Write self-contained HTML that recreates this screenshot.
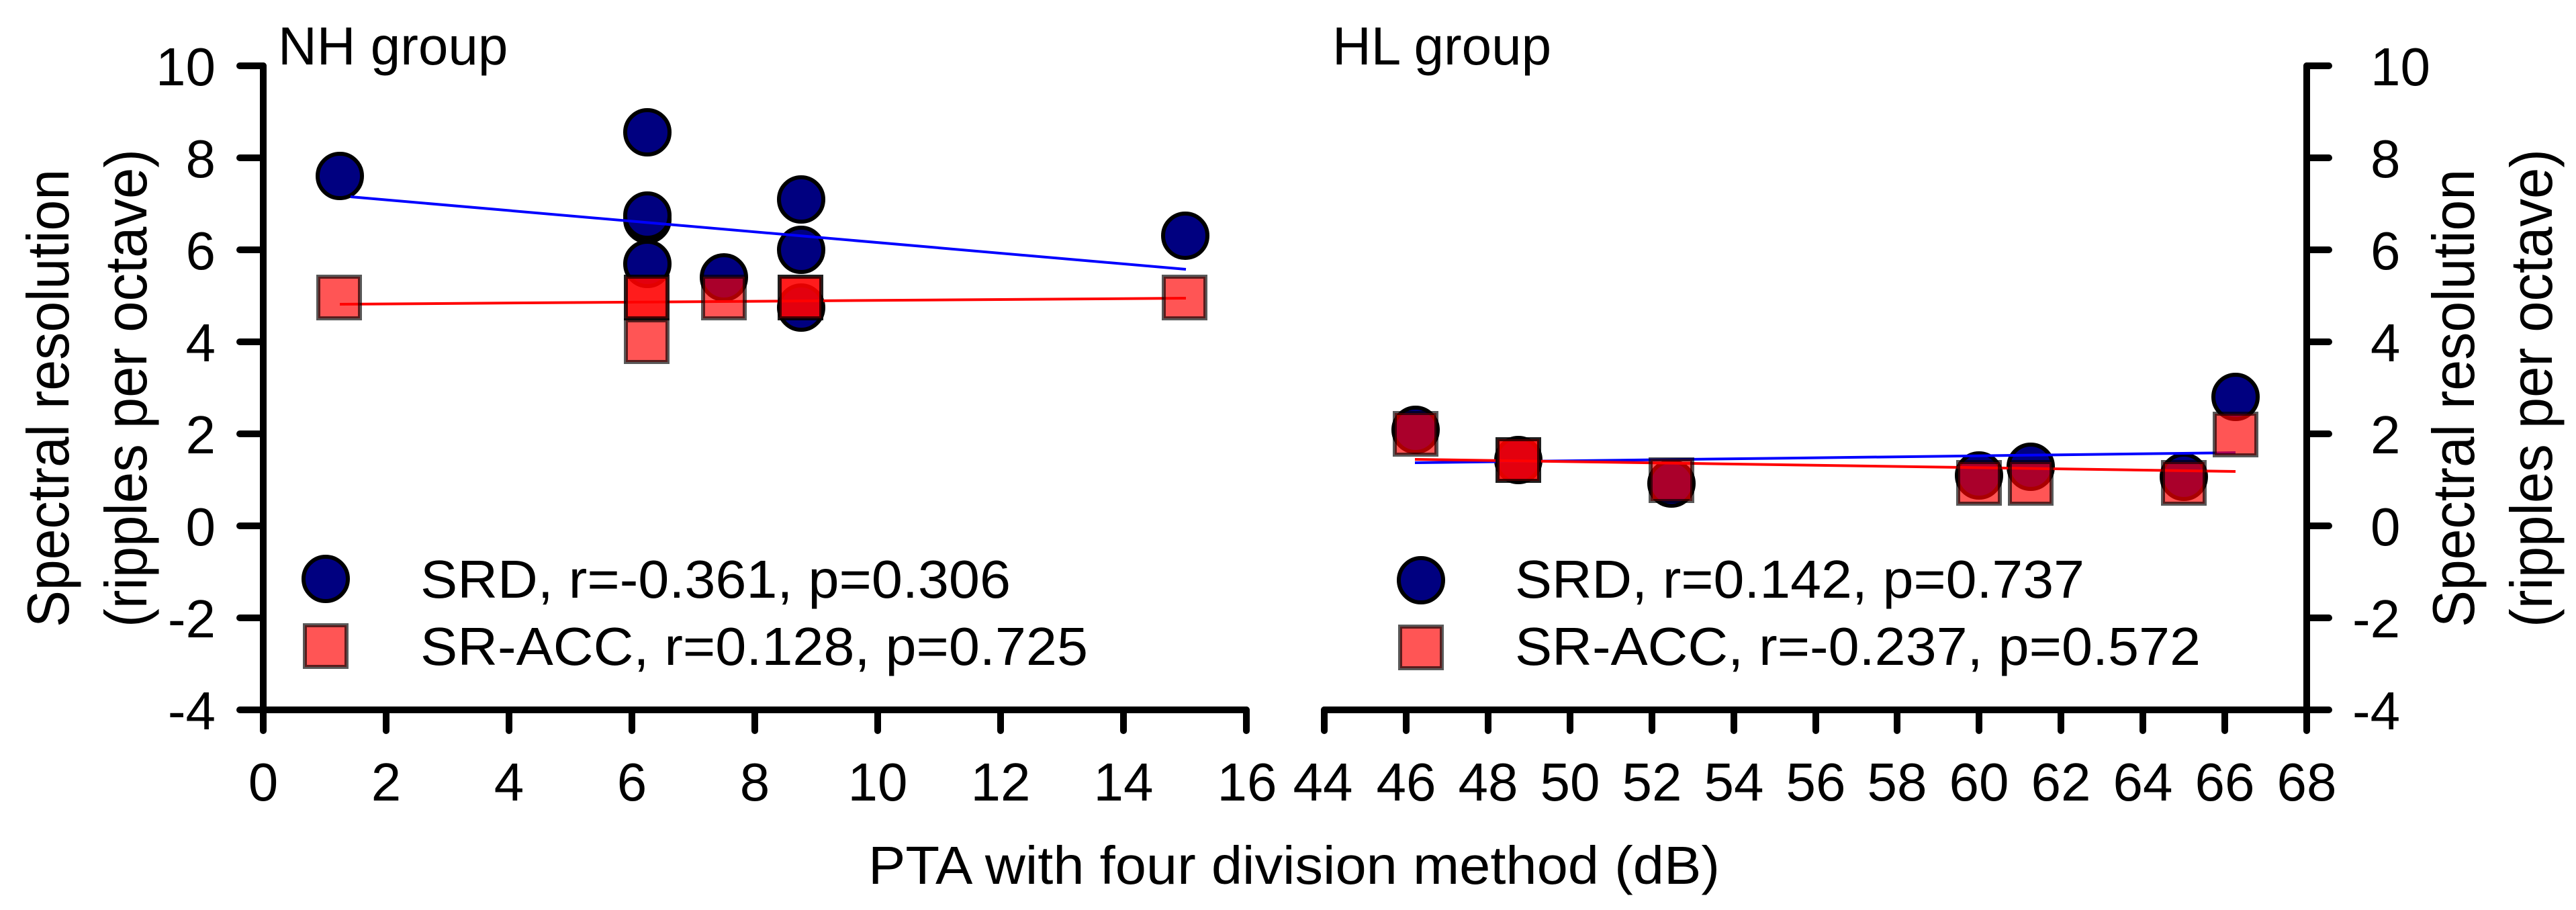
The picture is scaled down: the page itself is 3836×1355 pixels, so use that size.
<!DOCTYPE html>
<html><head><meta charset="utf-8"><style>html,body{margin:0;padding:0;background:#fff}svg{display:block}</style></head>
<body>
<svg width="3836" height="1355" viewBox="0 0 3836 1355" xmlns="http://www.w3.org/2000/svg" font-family="Liberation Sans, Arial, sans-serif">
<rect width="3836" height="1355" fill="#fff"/>
<g stroke="#000" stroke-width="10" stroke-linecap="round" fill="none">
<path d="M392 98 V1057 H1856"/>
<path d="M357 98 H392 M357 235 H392 M357 372 H392 M357 509 H392 M357 646 H392 M357 783 H392 M357 920 H392 M357 1057 H392"/>
<path d="M392 1057 V1088 M575 1057 V1088 M758 1057 V1088 M941 1057 V1088 M1124 1057 V1088 M1307 1057 V1088 M1490 1057 V1088 M1673 1057 V1088 M1856 1057 V1088"/>
<path d="M1972 1057 H3435 V98"/>
<path d="M3435 98 H3468 M3435 235 H3468 M3435 372 H3468 M3435 509 H3468 M3435 646 H3468 M3435 783 H3468 M3435 920 H3468 M3435 1057 H3468"/>
<path d="M1972 1057 V1088 M2094 1057 V1088 M2216 1057 V1088 M2338 1057 V1088 M2460 1057 V1088 M2582 1057 V1088 M2704 1057 V1088 M2825 1057 V1088 M2947 1057 V1088 M3069 1057 V1088 M3191 1057 V1088 M3313 1057 V1088 M3435 1057 V1088"/>
</g>
<g font-size="80" fill="#000">
<g text-anchor="end">
<text x="321" y="127">10</text><text x="321" y="264">8</text><text x="321" y="401">6</text><text x="321" y="538">4</text><text x="321" y="675">2</text><text x="321" y="812">0</text><text x="321" y="949">-2</text><text x="321" y="1086">-4</text>
</g>
<g text-anchor="start">
<text x="3530" y="127">10</text><text x="3530" y="264">8</text><text x="3530" y="401">6</text><text x="3530" y="538">4</text><text x="3530" y="675">2</text><text x="3530" y="812">0</text><text x="3503" y="949">-2</text><text x="3503" y="1086">-4</text>
</g>
<g text-anchor="middle">
<text x="392" y="1192">0</text><text x="575" y="1192">2</text><text x="758" y="1192">4</text><text x="941" y="1192">6</text><text x="1124" y="1192">8</text><text x="1307" y="1192">10</text><text x="1490" y="1192">12</text><text x="1673" y="1192">14</text><text x="1857" y="1192">16</text>
<text x="1970" y="1192">44</text><text x="2094" y="1192">46</text><text x="2216" y="1192">48</text><text x="2338" y="1192">50</text><text x="2460" y="1192">52</text><text x="2582" y="1192">54</text><text x="2704" y="1192">56</text><text x="2825" y="1192">58</text><text x="2947" y="1192">60</text><text x="3069" y="1192">62</text><text x="3191" y="1192">64</text><text x="3313" y="1192">66</text><text x="3435" y="1192">68</text>
</g>
</g>
<g font-size="80" fill="#000">
<text x="414" y="96">NH group</text>
<text x="1984" y="96">HL group</text>
<text x="1927" y="1316" text-anchor="middle" textLength="1268" lengthAdjust="spacingAndGlyphs">PTA with four division method (dB)</text>
</g>
<g font-size="88" fill="#000" text-anchor="middle">
<text transform="translate(102,593) rotate(-90)" textLength="682" lengthAdjust="spacingAndGlyphs">Spectral resolution</text>
<text transform="translate(218,578) rotate(-90)" textLength="712" lengthAdjust="spacingAndGlyphs">(ripples per octave)</text>
<text transform="translate(3684,593) rotate(-90)" textLength="682" lengthAdjust="spacingAndGlyphs">Spectral resolution</text>
<text transform="translate(3800,578) rotate(-90)" textLength="712" lengthAdjust="spacingAndGlyphs">(ripples per octave)</text>
</g>
<g fill="#000080" stroke="#000" stroke-width="6">
<circle cx="506" cy="262" r="33"/>
<circle cx="964" cy="197" r="33"/>
<circle cx="964" cy="393" r="33"/>
<circle cx="964" cy="327" r="33"/>
<circle cx="964" cy="321" r="33"/>
<circle cx="1078" cy="413" r="33"/>
<circle cx="1193" cy="458" r="33"/>
<circle cx="1193" cy="372" r="33"/>
<circle cx="1193" cy="297" r="33"/>
<circle cx="1765" cy="351" r="33"/>
</g>
<g stroke-width="4">
<line x1="522" y1="293" x2="1766" y2="401" stroke="#0000ff"/>
<line x1="506" y1="453" x2="1766" y2="444" stroke="#ff0000"/>
</g>
<g fill="rgba(255,0,0,0.667)" stroke="rgba(0,0,0,0.65)" stroke-width="6">
<rect x="474" y="412" width="62" height="62"/>
<rect x="932" y="412" width="62" height="62"/>
<rect x="932" y="412" width="62" height="62"/>
<rect x="932" y="477" width="62" height="62"/>
<rect x="1047" y="412" width="62" height="62"/>
<rect x="1161" y="412" width="62" height="62"/>
<rect x="1161" y="412" width="62" height="62"/>
<rect x="1733" y="412" width="62" height="62"/>
</g>
<g fill="#000080" stroke="#000" stroke-width="6">
<circle cx="2108" cy="640" r="33"/>
<circle cx="2261" cy="685" r="33"/>
<circle cx="2489" cy="720" r="33"/>
<circle cx="2947" cy="708" r="33"/>
<circle cx="3024" cy="695" r="33"/>
<circle cx="3252" cy="710" r="33"/>
<circle cx="3329" cy="591" r="33"/>
</g>
<g stroke-width="4">
<line x1="2107" y1="689" x2="3329" y2="674" stroke="#0000ff"/>
<line x1="2107" y1="684" x2="3329" y2="702" stroke="#ff0000"/>
</g>
<g fill="rgba(255,0,0,0.667)" stroke="rgba(0,0,0,0.65)" stroke-width="6">
<rect x="2077" y="615" width="62" height="62"/>
<rect x="2230" y="654" width="62" height="62"/>
<rect x="2230" y="654" width="62" height="62"/>
<rect x="2458" y="684" width="62" height="62"/>
<rect x="2916" y="688" width="62" height="62"/>
<rect x="2993" y="688" width="62" height="62"/>
<rect x="3221" y="688" width="62" height="62"/>
<rect x="3298" y="616" width="62" height="62"/>
</g>
<circle cx="485" cy="862" r="33" fill="#000080" stroke="#000" stroke-width="6"/>
<rect x="454" y="931" width="62" height="62" fill="rgba(255,0,0,0.667)" stroke="rgba(0,0,0,0.65)" stroke-width="6"/>
<circle cx="2116" cy="864" r="33" fill="#000080" stroke="#000" stroke-width="6"/>
<rect x="2085" y="933" width="62" height="62" fill="rgba(255,0,0,0.667)" stroke="rgba(0,0,0,0.65)" stroke-width="6"/>
<g font-size="80" fill="#000">
<text x="626" y="890" textLength="879" lengthAdjust="spacingAndGlyphs">SRD, r=-0.361, p=0.306</text>
<text x="626" y="990" textLength="994" lengthAdjust="spacingAndGlyphs">SR-ACC, r=0.128, p=0.725</text>
<text x="2256" y="890" textLength="848" lengthAdjust="spacingAndGlyphs">SRD, r=0.142, p=0.737</text>
<text x="2256" y="990" textLength="1021" lengthAdjust="spacingAndGlyphs">SR-ACC, r=-0.237, p=0.572</text>
</g>
</svg>
</body></html>
